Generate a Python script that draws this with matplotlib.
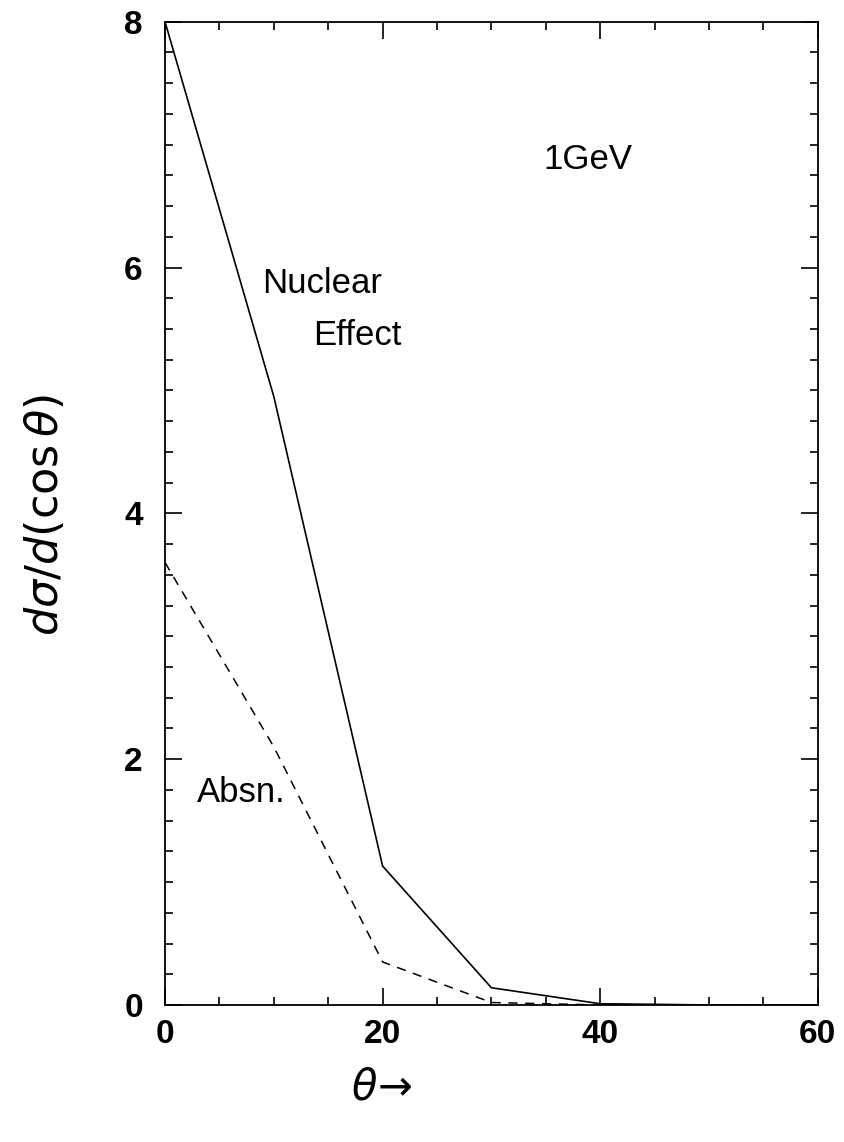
import matplotlib
matplotlib.use('Agg')
import matplotlib.pyplot as plt
from matplotlib.ticker import MultipleLocator

# Data
theta = [0, 10, 20, 30, 40, 50, 60]
nuclear_effect = [8.0, 4.95, 1.13, 0.14, 0.01, 0.0, 0.0]
absn = [3.6, 2.1, 0.35, 0.02, 0.0, 0.0, 0.0]

plt.rcParams['font.family'] = ['Liberation Sans', 'DejaVu Sans']

fig = plt.figure(figsize=(8.44, 11.42), dpi=100)
ax = fig.add_axes([0.1955, 0.12, 0.7735, 0.861])

ax.plot(theta, nuclear_effect, color='black', lw=1.2)
ax.plot(theta, absn, color='black', lw=1.1, linestyle=(0, (6, 5)))

ax.set_xlim(0, 60)
ax.set_ylim(0, 8)

ax.xaxis.set_major_locator(MultipleLocator(20))
ax.xaxis.set_minor_locator(MultipleLocator(5))
ax.yaxis.set_major_locator(MultipleLocator(2))
ax.yaxis.set_minor_locator(MultipleLocator(0.25))

ax.tick_params(which='both', direction='in', top=True, right=True, width=1.2)
ax.tick_params(which='major', length=12, labelsize=24)
ax.tick_params(axis='y', which='major', pad=16)
ax.tick_params(axis='x', which='major', pad=10)
ax.tick_params(which='minor', length=6)
for lab in ax.get_xticklabels() + ax.get_yticklabels():
    lab.set_fontweight('bold')
for sp in ax.spines.values():
    sp.set_linewidth(1.3)

# annotations
ax.text(0.648, 0.86, '1GeV', transform=ax.transAxes, fontsize=25, ha='center', va='center')
ax.text(0.241, 0.734, 'Nuclear', transform=ax.transAxes, fontsize=25, ha='center', va='center')
ax.text(0.295, 0.681, 'Effect', transform=ax.transAxes, fontsize=25, ha='center', va='center')
ax.text(0.117, 0.216, 'Absn.', transform=ax.transAxes, fontsize=25, ha='center', va='center')

# axis labels (handwritten in the original)
fig.text(45 / 844, 1 - 515 / 1142, r'$d\sigma/d(\cos\theta)$', rotation=90,
         fontsize=32, ha='center', va='center')
fig.text(382 / 844, 1 - 1088 / 1142, r'$\theta\!\rightarrow$', fontsize=30,
         ha='center', va='center')

fig.savefig('out.png', dpi=100)
